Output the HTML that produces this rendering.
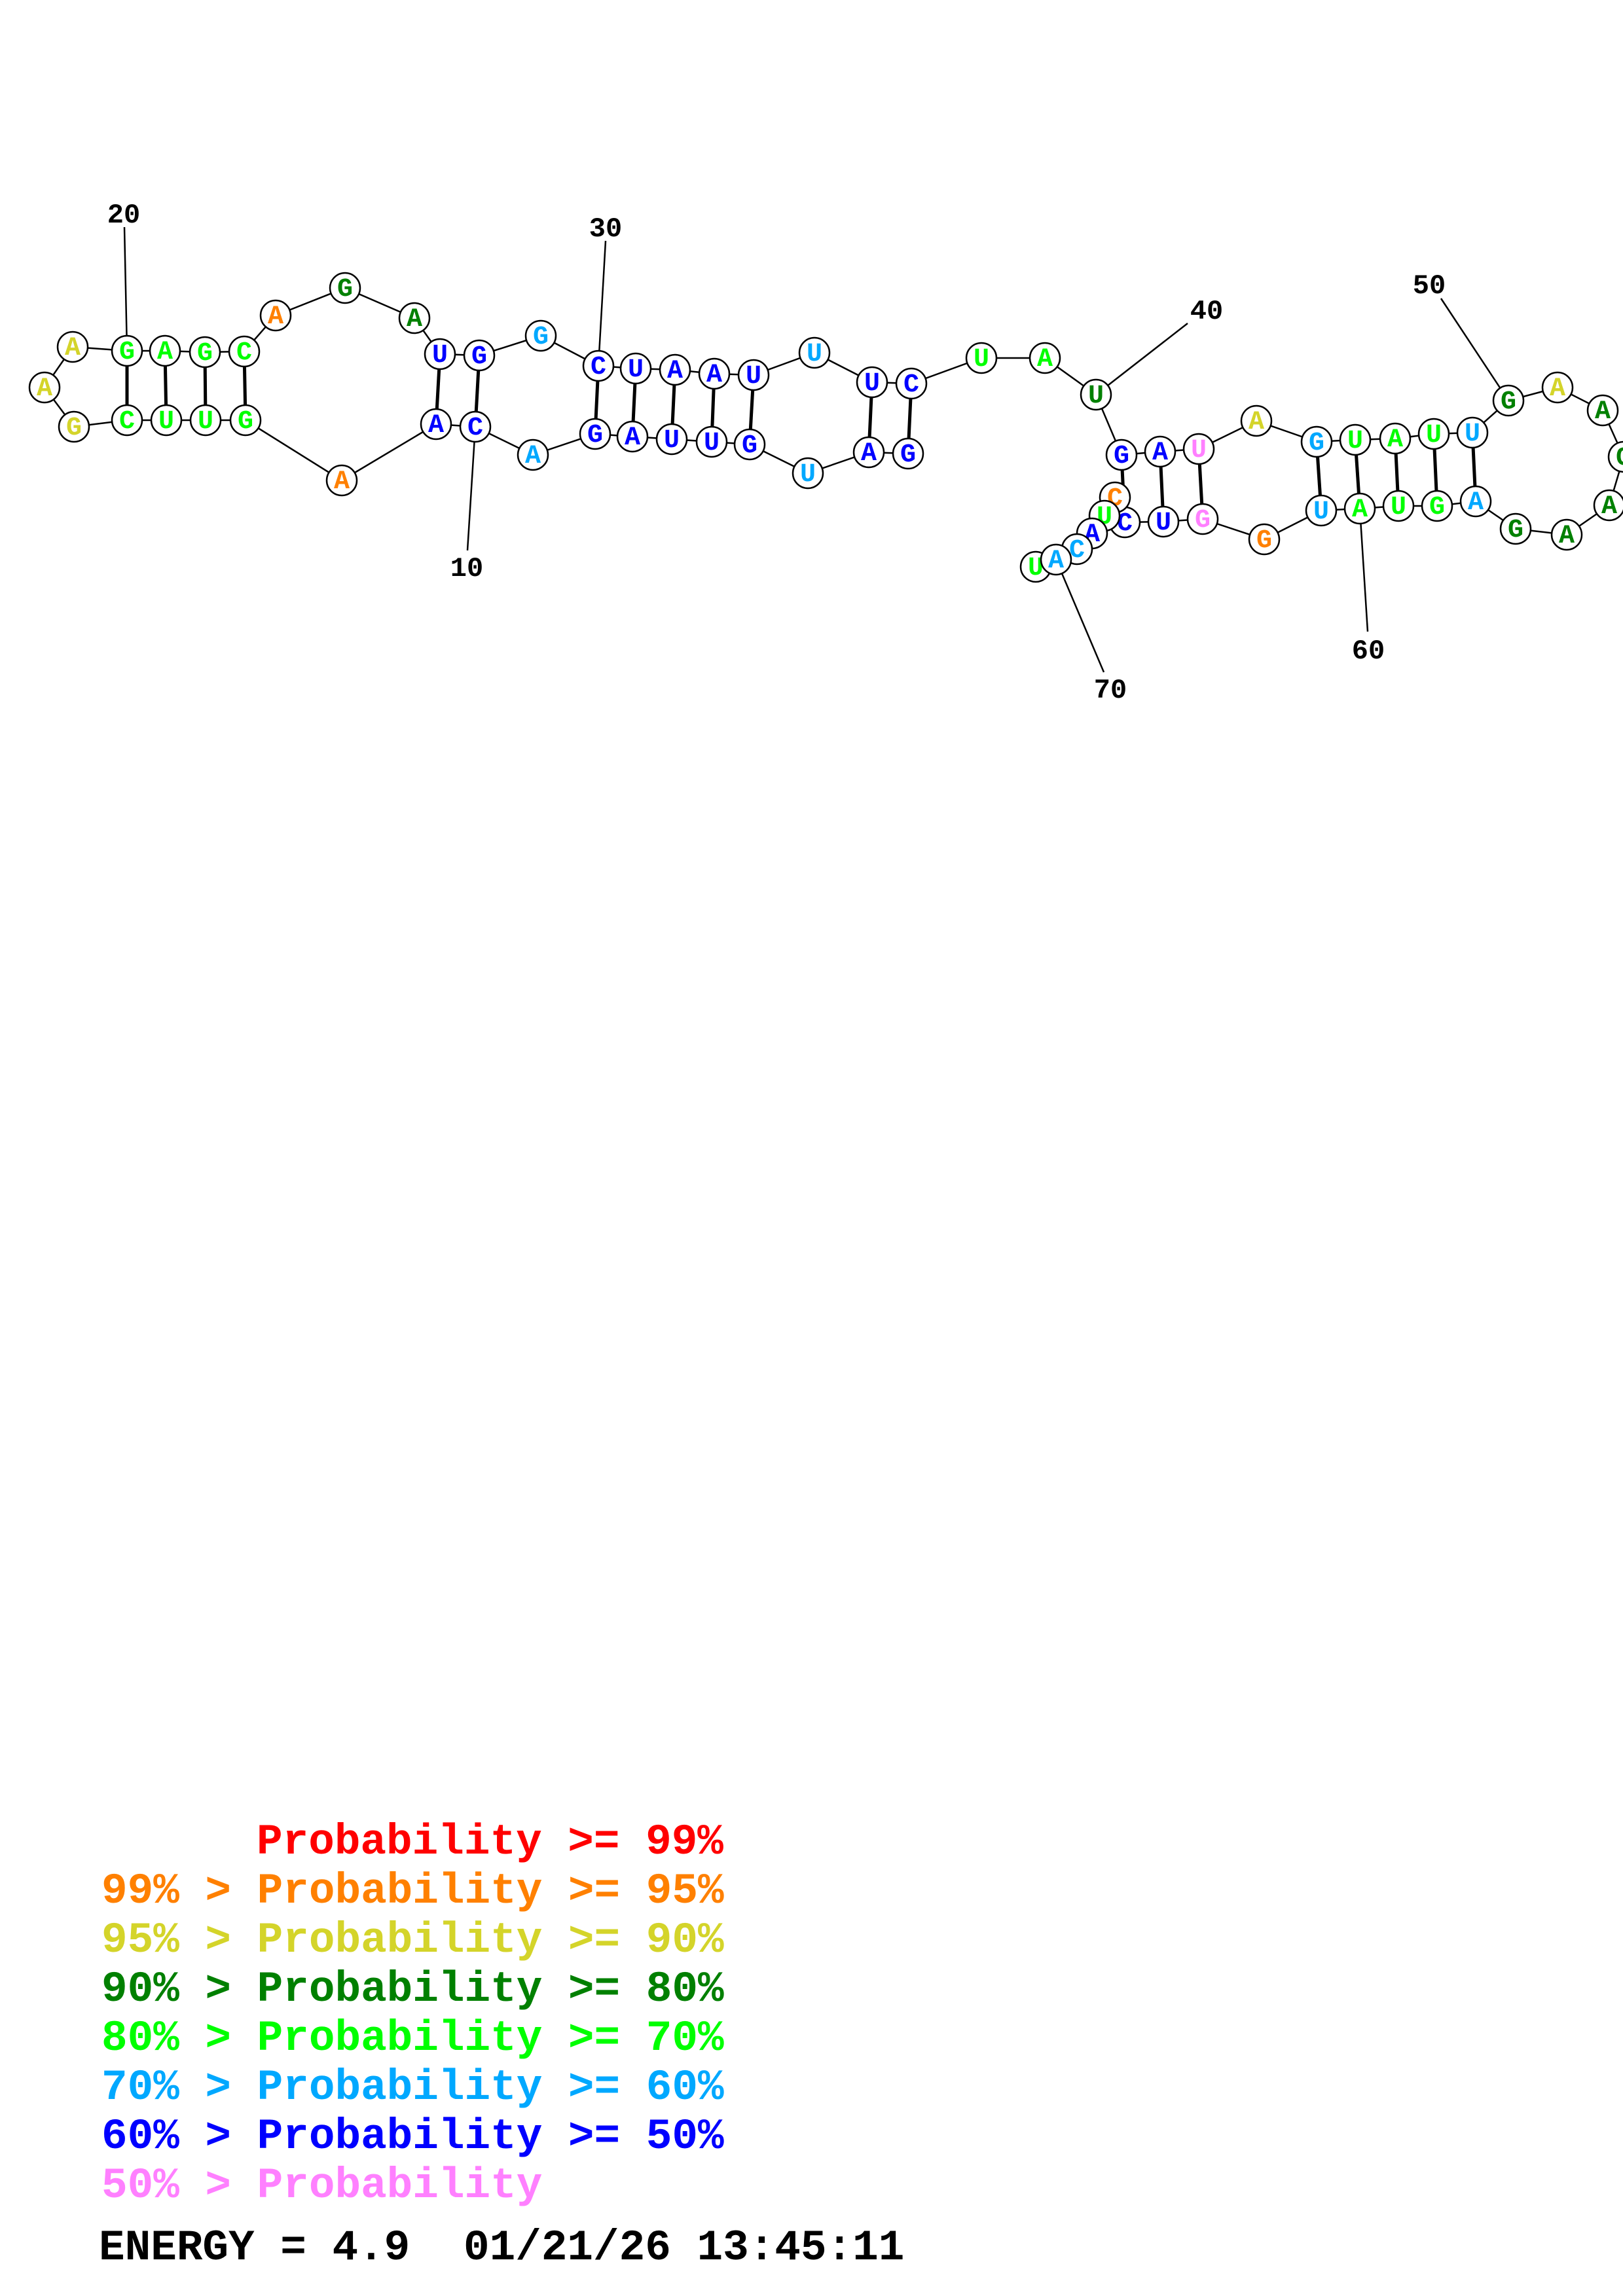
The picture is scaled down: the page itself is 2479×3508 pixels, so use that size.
<!DOCTYPE html>
<html><head><meta charset="utf-8"><style>
html,body{margin:0;padding:0;background:#fff;}
svg{display:block;}
.n{font-family:"Liberation Mono",monospace;font-weight:bold;font-size:40px;text-anchor:middle;}
.lb{font-family:"Liberation Mono",monospace;font-weight:bold;font-size:42px;text-anchor:middle;fill:#000;}
.lg{font-family:"Liberation Mono",monospace;font-weight:bold;font-size:66px;}
</style></head><body>
<svg width="2479" height="3508" viewBox="0 0 2479 3508" xmlns="http://www.w3.org/2000/svg">
<g stroke="#000" stroke-width="2.5" fill="none">
<polyline points="1387,693 1327,691 1234,723 1145,679 1087,675 1026,671 966,667 909,663 814,695 726,652 666,648 522,734 375,642 314,642 254,642 194,642 113,652 68,592 111,530 194,536 252,536 313,538 373,537 421,482 527,440 633,486 672,541 732,543 826,513 914,559 971,563 1031,565 1091,571 1151,573 1244,539 1332,584 1392,586 1499,547 1596,547 1674,603 1713,695 1772,690 1831,686 1919,643 2011,675 2070,672 2131,670 2190,663 2249,661 2304,612 2379,592 2448,627 2480,698 2458,772 2393,817 2315,808 2254,766 2195,773 2136,773 2077,777 2018,780 1931,824 1837,793 1777,797 1718,798 1703,760 1687,788 1668,815 1645,839 1613,855 1582,866"/>
<line x1="726" y1="652" x2="714" y2="841"/>
<line x1="194" y1="536" x2="190" y2="347"/>
<line x1="914" y1="559" x2="925" y2="368"/>
<line x1="1674" y1="603" x2="1814" y2="494"/>
<line x1="2304" y1="612" x2="2201" y2="456"/>
<line x1="2077" y1="777" x2="2089" y2="965"/>
<line x1="1613" y1="855" x2="1686" y2="1027"/>
</g>
<g stroke="#000" stroke-width="5">
<line x1="1387" y1="693" x2="1392" y2="586"/>
<line x1="1327" y1="691" x2="1332" y2="584"/>
<line x1="1145" y1="679" x2="1151" y2="573"/>
<line x1="1087" y1="675" x2="1091" y2="571"/>
<line x1="1026" y1="671" x2="1031" y2="565"/>
<line x1="966" y1="667" x2="971" y2="563"/>
<line x1="909" y1="663" x2="914" y2="559"/>
<line x1="726" y1="652" x2="732" y2="543"/>
<line x1="666" y1="648" x2="672" y2="541"/>
<line x1="375" y1="642" x2="373" y2="537"/>
<line x1="314" y1="642" x2="313" y2="538"/>
<line x1="254" y1="642" x2="252" y2="536"/>
<line x1="194" y1="642" x2="194" y2="536"/>
<line x1="1713" y1="695" x2="1718" y2="798"/>
<line x1="1772" y1="690" x2="1777" y2="797"/>
<line x1="1831" y1="686" x2="1837" y2="793"/>
<line x1="2011" y1="675" x2="2018" y2="780"/>
<line x1="2070" y1="672" x2="2077" y2="777"/>
<line x1="2131" y1="670" x2="2136" y2="773"/>
<line x1="2190" y1="663" x2="2195" y2="773"/>
<line x1="2249" y1="661" x2="2254" y2="766"/>
</g>
<g class="n" stroke="#000" stroke-width="2.5">
<g><circle cx="1582" cy="866" r="23" fill="#fff"/><text x="1582" y="878" fill="#00ff00" stroke="none">U</text></g>
<g><circle cx="1387" cy="693" r="23" fill="#fff"/><text x="1387" y="705" fill="#0000ff" stroke="none">G</text></g>
<g><circle cx="1327" cy="691" r="23" fill="#fff"/><text x="1327" y="703" fill="#0000ff" stroke="none">A</text></g>
<g><circle cx="1234" cy="723" r="23" fill="#fff"/><text x="1234" y="735" fill="#00a8ff" stroke="none">U</text></g>
<g><circle cx="1145" cy="679" r="23" fill="#fff"/><text x="1145" y="691" fill="#0000ff" stroke="none">G</text></g>
<g><circle cx="1087" cy="675" r="23" fill="#fff"/><text x="1087" y="687" fill="#0000ff" stroke="none">U</text></g>
<g><circle cx="1026" cy="671" r="23" fill="#fff"/><text x="1026" y="683" fill="#0000ff" stroke="none">U</text></g>
<g><circle cx="966" cy="667" r="23" fill="#fff"/><text x="966" y="679" fill="#0000ff" stroke="none">A</text></g>
<g><circle cx="909" cy="663" r="23" fill="#fff"/><text x="909" y="675" fill="#0000ff" stroke="none">G</text></g>
<g><circle cx="814" cy="695" r="23" fill="#fff"/><text x="814" y="707" fill="#00a8ff" stroke="none">A</text></g>
<g><circle cx="726" cy="652" r="23" fill="#fff"/><text x="726" y="664" fill="#0000ff" stroke="none">C</text></g>
<g><circle cx="666" cy="648" r="23" fill="#fff"/><text x="666" y="660" fill="#0000ff" stroke="none">A</text></g>
<g><circle cx="522" cy="734" r="23" fill="#fff"/><text x="522" y="746" fill="#ff8000" stroke="none">A</text></g>
<g><circle cx="375" cy="642" r="23" fill="#fff"/><text x="375" y="654" fill="#00ff00" stroke="none">G</text></g>
<g><circle cx="314" cy="642" r="23" fill="#fff"/><text x="314" y="654" fill="#00ff00" stroke="none">U</text></g>
<g><circle cx="254" cy="642" r="23" fill="#fff"/><text x="254" y="654" fill="#00ff00" stroke="none">U</text></g>
<g><circle cx="194" cy="642" r="23" fill="#fff"/><text x="194" y="654" fill="#00ff00" stroke="none">C</text></g>
<g><circle cx="113" cy="652" r="23" fill="#fff"/><text x="113" y="664" fill="#d4d42a" stroke="none">G</text></g>
<g><circle cx="68" cy="592" r="23" fill="#fff"/><text x="68" y="604" fill="#d4d42a" stroke="none">A</text></g>
<g><circle cx="111" cy="530" r="23" fill="#fff"/><text x="111" y="542" fill="#d4d42a" stroke="none">A</text></g>
<g><circle cx="194" cy="536" r="23" fill="#fff"/><text x="194" y="548" fill="#00ff00" stroke="none">G</text></g>
<g><circle cx="252" cy="536" r="23" fill="#fff"/><text x="252" y="548" fill="#00ff00" stroke="none">A</text></g>
<g><circle cx="313" cy="538" r="23" fill="#fff"/><text x="313" y="550" fill="#00ff00" stroke="none">G</text></g>
<g><circle cx="373" cy="537" r="23" fill="#fff"/><text x="373" y="549" fill="#00ff00" stroke="none">C</text></g>
<g><circle cx="421" cy="482" r="23" fill="#fff"/><text x="421" y="494" fill="#ff8000" stroke="none">A</text></g>
<g><circle cx="527" cy="440" r="23" fill="#fff"/><text x="527" y="452" fill="#008000" stroke="none">G</text></g>
<g><circle cx="633" cy="486" r="23" fill="#fff"/><text x="633" y="498" fill="#008000" stroke="none">A</text></g>
<g><circle cx="672" cy="541" r="23" fill="#fff"/><text x="672" y="553" fill="#0000ff" stroke="none">U</text></g>
<g><circle cx="732" cy="543" r="23" fill="#fff"/><text x="732" y="555" fill="#0000ff" stroke="none">G</text></g>
<g><circle cx="826" cy="513" r="23" fill="#fff"/><text x="826" y="525" fill="#00a8ff" stroke="none">G</text></g>
<g><circle cx="914" cy="559" r="23" fill="#fff"/><text x="914" y="571" fill="#0000ff" stroke="none">C</text></g>
<g><circle cx="971" cy="563" r="23" fill="#fff"/><text x="971" y="575" fill="#0000ff" stroke="none">U</text></g>
<g><circle cx="1031" cy="565" r="23" fill="#fff"/><text x="1031" y="577" fill="#0000ff" stroke="none">A</text></g>
<g><circle cx="1091" cy="571" r="23" fill="#fff"/><text x="1091" y="583" fill="#0000ff" stroke="none">A</text></g>
<g><circle cx="1151" cy="573" r="23" fill="#fff"/><text x="1151" y="585" fill="#0000ff" stroke="none">U</text></g>
<g><circle cx="1244" cy="539" r="23" fill="#fff"/><text x="1244" y="551" fill="#00a8ff" stroke="none">U</text></g>
<g><circle cx="1332" cy="584" r="23" fill="#fff"/><text x="1332" y="596" fill="#0000ff" stroke="none">U</text></g>
<g><circle cx="1392" cy="586" r="23" fill="#fff"/><text x="1392" y="598" fill="#0000ff" stroke="none">C</text></g>
<g><circle cx="1499" cy="547" r="23" fill="#fff"/><text x="1499" y="559" fill="#00ff00" stroke="none">U</text></g>
<g><circle cx="1596" cy="547" r="23" fill="#fff"/><text x="1596" y="559" fill="#00ff00" stroke="none">A</text></g>
<g><circle cx="1674" cy="603" r="23" fill="#fff"/><text x="1674" y="615" fill="#008000" stroke="none">U</text></g>
<g><circle cx="1713" cy="695" r="23" fill="#fff"/><text x="1713" y="707" fill="#0000ff" stroke="none">G</text></g>
<g><circle cx="1772" cy="690" r="23" fill="#fff"/><text x="1772" y="702" fill="#0000ff" stroke="none">A</text></g>
<g><circle cx="1831" cy="686" r="23" fill="#fff"/><text x="1831" y="698" fill="#ff80ff" stroke="none">U</text></g>
<g><circle cx="1919" cy="643" r="23" fill="#fff"/><text x="1919" y="655" fill="#d4d42a" stroke="none">A</text></g>
<g><circle cx="2011" cy="675" r="23" fill="#fff"/><text x="2011" y="687" fill="#00a8ff" stroke="none">G</text></g>
<g><circle cx="2070" cy="672" r="23" fill="#fff"/><text x="2070" y="684" fill="#00ff00" stroke="none">U</text></g>
<g><circle cx="2131" cy="670" r="23" fill="#fff"/><text x="2131" y="682" fill="#00ff00" stroke="none">A</text></g>
<g><circle cx="2190" cy="663" r="23" fill="#fff"/><text x="2190" y="675" fill="#00ff00" stroke="none">U</text></g>
<g><circle cx="2249" cy="661" r="23" fill="#fff"/><text x="2249" y="673" fill="#00a8ff" stroke="none">U</text></g>
<g><circle cx="2304" cy="612" r="23" fill="#fff"/><text x="2304" y="624" fill="#008000" stroke="none">G</text></g>
<g><circle cx="2379" cy="592" r="23" fill="#fff"/><text x="2379" y="604" fill="#d4d42a" stroke="none">A</text></g>
<g><circle cx="2448" cy="627" r="23" fill="#fff"/><text x="2448" y="639" fill="#008000" stroke="none">A</text></g>
<g><circle cx="2480" cy="698" r="23" fill="#fff"/><text x="2480" y="710" fill="#008000" stroke="none">G</text></g>
<g><circle cx="2458" cy="772" r="23" fill="#fff"/><text x="2458" y="784" fill="#008000" stroke="none">A</text></g>
<g><circle cx="2393" cy="817" r="23" fill="#fff"/><text x="2393" y="829" fill="#008000" stroke="none">A</text></g>
<g><circle cx="2315" cy="808" r="23" fill="#fff"/><text x="2315" y="820" fill="#008000" stroke="none">G</text></g>
<g><circle cx="2254" cy="766" r="23" fill="#fff"/><text x="2254" y="778" fill="#00a8ff" stroke="none">A</text></g>
<g><circle cx="2195" cy="773" r="23" fill="#fff"/><text x="2195" y="785" fill="#00ff00" stroke="none">G</text></g>
<g><circle cx="2136" cy="773" r="23" fill="#fff"/><text x="2136" y="785" fill="#00ff00" stroke="none">U</text></g>
<g><circle cx="2077" cy="777" r="23" fill="#fff"/><text x="2077" y="789" fill="#00ff00" stroke="none">A</text></g>
<g><circle cx="2018" cy="780" r="23" fill="#fff"/><text x="2018" y="792" fill="#00a8ff" stroke="none">U</text></g>
<g><circle cx="1931" cy="824" r="23" fill="#fff"/><text x="1931" y="836" fill="#ff8000" stroke="none">G</text></g>
<g><circle cx="1837" cy="793" r="23" fill="#fff"/><text x="1837" y="805" fill="#ff80ff" stroke="none">G</text></g>
<g><circle cx="1777" cy="797" r="23" fill="#fff"/><text x="1777" y="809" fill="#0000ff" stroke="none">U</text></g>
<g><circle cx="1718" cy="798" r="23" fill="#fff"/><text x="1718" y="810" fill="#0000ff" stroke="none">C</text></g>
<g><circle cx="1703" cy="760" r="23" fill="#fff"/><text x="1703" y="772" fill="#ff8000" stroke="none">C</text></g>
<g><circle cx="1687" cy="788" r="23" fill="#fff"/><text x="1687" y="800" fill="#00ff00" stroke="none">U</text></g>
<g><circle cx="1668" cy="815" r="23" fill="#fff"/><text x="1668" y="827" fill="#0000ff" stroke="none">A</text></g>
<g><circle cx="1645" cy="839" r="23" fill="#fff"/><text x="1645" y="851" fill="#00a8ff" stroke="none">C</text></g>
<g><circle cx="1613" cy="855" r="23" fill="#fff"/><text x="1613" y="867" fill="#00a8ff" stroke="none">A</text></g>
</g>
<g class="lb">
<text x="713" y="880">10</text>
<text x="189" y="340">20</text>
<text x="925" y="361">30</text>
<text x="1843" y="487">40</text>
<text x="2183" y="448">50</text>
<text x="2090" y="1006">60</text>
<text x="1696" y="1066">70</text>
</g>
<g class="lg">
<text x="392" y="2832" fill="#ff0000">Probability &gt;= 99%</text>
<text x="155" y="2907" fill="#ff8000">99% &gt; Probability &gt;= 95%</text>
<text x="155" y="2982" fill="#d4d42a">95% &gt; Probability &gt;= 90%</text>
<text x="155" y="3057" fill="#008000">90% &gt; Probability &gt;= 80%</text>
<text x="155" y="3132" fill="#00ff00">80% &gt; Probability &gt;= 70%</text>
<text x="155" y="3207" fill="#00a8ff">70% &gt; Probability &gt;= 60%</text>
<text x="155" y="3282" fill="#0000ff">60% &gt; Probability &gt;= 50%</text>
<text x="155" y="3357" fill="#ff80ff">50% &gt; Probability</text>
<text x="151" y="3452" fill="#000">ENERGY = 4.9</text>
<text x="708" y="3452" fill="#000">01/21/26 13:45:11</text>
</g>
</svg>
</body></html>
